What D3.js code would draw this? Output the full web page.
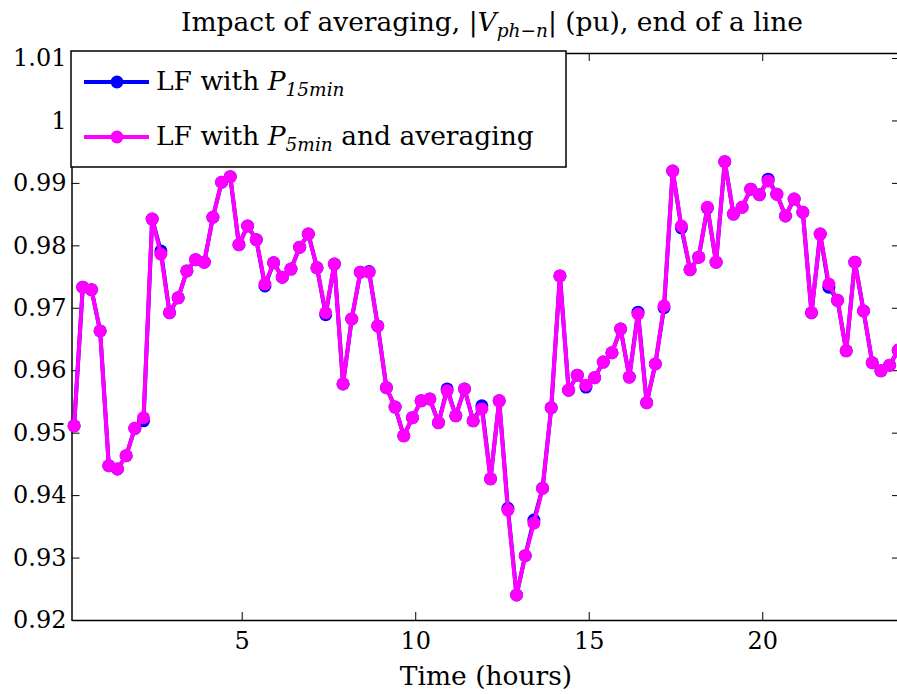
<!DOCTYPE html>
<html>
<head>
<meta charset="utf-8">
<script src="https://d3js.org/d3.v7.min.js"></script>
<style>
  body { margin: 0; background: #fff; }
  svg text { font-family: "DejaVu Serif", serif; fill: #000; }
  .axis path, .axis line { stroke: #000; }
</style>
</head>
<body>
<script>
// time of each sample (hours), one every 15 min
var hours = d3.range(96).map(function(i){ return 0.17 + 0.25 * i; });

// |V ph-n| (pu), load flow with 5 min profile and averaging
var v5min = [0.9511, 0.9733, 0.9729, 0.9663, 0.9447, 0.9442, 0.9463, 0.9507, 0.9524, 0.9842,
             0.9786, 0.9692, 0.9716, 0.9759, 0.9777, 0.9773, 0.9845, 0.9901, 0.9910, 0.9801,
             0.9831, 0.9809, 0.9738, 0.9772, 0.9749, 0.9762, 0.9797, 0.9818, 0.9764, 0.9692,
             0.9770, 0.9578, 0.9682, 0.9757, 0.9757, 0.9671, 0.9572, 0.9541, 0.9495, 0.9524,
             0.9551, 0.9554, 0.9516, 0.9567, 0.9527, 0.9570, 0.9519, 0.9538, 0.9426, 0.9551,
             0.9376, 0.9240, 0.9303, 0.9355, 0.9411, 0.9540, 0.9751, 0.9568, 0.9592, 0.9576,
             0.9588, 0.9613, 0.9628, 0.9666, 0.9589, 0.9690, 0.9548, 0.9610, 0.9703, 0.9919,
             0.9831, 0.9761, 0.9781, 0.9861, 0.9773, 0.9934, 0.9850, 0.9861, 0.9890, 0.9881,
             0.9903, 0.9882, 0.9847, 0.9874, 0.9853, 0.9692, 0.9818, 0.9738, 0.9712, 0.9631,
             0.9773, 0.9695, 0.9612, 0.9599, 0.9608, 0.9632];

// |V ph-n| (pu), load flow with 15 min profile
var v15min = [0.9511, 0.9733, 0.9729, 0.9663, 0.9447, 0.9442, 0.9463, 0.9507, 0.9519, 0.9842,
              0.9791, 0.9692, 0.9716, 0.9759, 0.9777, 0.9773, 0.9845, 0.9901, 0.9910, 0.9801,
              0.9831, 0.9809, 0.9735, 0.9772, 0.9749, 0.9762, 0.9797, 0.9818, 0.9764, 0.9689,
              0.9770, 0.9578, 0.9682, 0.9757, 0.9758, 0.9671, 0.9572, 0.9541, 0.9495, 0.9524,
              0.9551, 0.9554, 0.9516, 0.9570, 0.9527, 0.9570, 0.9519, 0.9543, 0.9426, 0.9551,
              0.9379, 0.9240, 0.9303, 0.9360, 0.9411, 0.9540, 0.9751, 0.9568, 0.9592, 0.9573,
              0.9588, 0.9613, 0.9628, 0.9666, 0.9589, 0.9693, 0.9548, 0.9610, 0.9700, 0.9919,
              0.9828, 0.9761, 0.9781, 0.9860, 0.9773, 0.9934, 0.9850, 0.9861, 0.9890, 0.9881,
              0.9906, 0.9882, 0.9847, 0.9874, 0.9853, 0.9692, 0.9818, 0.9733, 0.9712, 0.9631,
              0.9773, 0.9695, 0.9612, 0.9599, 0.9608, 0.9632];

var xTicks = [5, 10, 15, 20];
var yTicks = [0.92, 0.93, 0.94, 0.95, 0.96, 0.97, 0.98, 0.99, 1, 1.01];

var W = 897, H = 694;
var margin = {top: 53, left: 71.5},
    width = 900 - margin.left,
    height = 620 - margin.top;

var svg = d3.select("body").append("svg")
  .attr("width", W)
  .attr("height", H);

var g = svg.append("g")
  .attr("transform", "translate(" + margin.left + "," + margin.top + ")");

// scales
var xScale = d3.scaleLinear().domain([0.095, 23.97]).range([0, width]);
var yScale = d3.scaleLinear().domain([0.92, 1.0108]).range([height, 0]);

// axes, ticks pointing inside like matlab
var fmtY = function(d){ return d3.format(".2f")(d).replace(/0+$/, "").replace(/\.$/, ""); };

g.append("g").attr("class", "axis")
  .attr("transform", "translate(0," + height + ")")
  .call(d3.axisBottom(xScale).tickValues(xTicks).tickSizeInner(-8).tickSizeOuter(0).tickPadding(12))
  .call(function(s){ s.selectAll("text").attr("font-size", 24); });

g.append("g").attr("class", "axis")
  .call(d3.axisTop(xScale).tickValues(xTicks).tickSizeInner(-8).tickSizeOuter(0).tickFormat(""));

g.append("g").attr("class", "axis")
  .call(d3.axisLeft(yScale).tickValues(yTicks).tickSizeInner(-8).tickSizeOuter(0).tickPadding(5).tickFormat(fmtY))
  .call(function(s){ s.selectAll("text").attr("font-size", 24); });

g.append("g").attr("class", "axis")
  .attr("transform", "translate(" + width + ",0)")
  .call(d3.axisRight(yScale).tickValues(yTicks).tickSizeInner(-8).tickSizeOuter(0).tickFormat(""));

g.selectAll(".axis").attr("font-family", null);
g.selectAll(".axis path").attr("stroke-width", 1.5);

// series
var series = [
  {values: v15min, color: "#0000ff"},
  {values: v5min, color: "#ff00ff"}
];

series.forEach(function(s){
  var pts = hours.map(function(h, i){ return [h, s.values[i]]; });
  var line = d3.line()
    .x(function(d){ return xScale(d[0]); })
    .y(function(d){ return yScale(d[1]); });
  g.append("path")
    .datum(pts)
    .attr("fill", "none")
    .attr("stroke", s.color)
    .attr("stroke-width", 4)
    .attr("stroke-linejoin", "round")
    .attr("d", line);
  g.append("g").selectAll("circle")
    .data(pts)
    .enter().append("circle")
    .attr("cx", function(d){ return xScale(d[0]); })
    .attr("cy", function(d){ return yScale(d[1]); })
    .attr("r", 6.5)
    .attr("fill", s.color);
});

// title
var title = svg.append("text")
  .attr("x", 492)
  .attr("y", 31)
  .attr("text-anchor", "middle")
  .attr("font-size", 26.5);
title.append("tspan").text("Impact of averaging, |");
title.append("tspan").attr("font-style", "italic").text("V");
title.append("tspan").attr("font-style", "italic").attr("font-size", 18.5).attr("dy", 6).text("ph\u2212n");
title.append("tspan").attr("dy", -6).text("| (pu), end of a line");

// x label
svg.append("text")
  .attr("x", 486)
  .attr("y", 685)
  .attr("text-anchor", "middle")
  .attr("font-size", 26.5)
  .text("Time (hours)");

// legend
var leg = svg.append("g");
leg.append("rect")
  .attr("x", 71).attr("y", 51)
  .attr("width", 495).attr("height", 116)
  .attr("fill", "#fff")
  .attr("stroke", "#000")
  .attr("stroke-width", 1.5);

var legItems = [
  {color: "#0000ff", sub: "15min", rest: ""},
  {color: "#ff00ff", sub: "5min", rest: " and averaging"}
];

legItems.forEach(function(d, i){
  var yy = 82 + i * 55;
  leg.append("line")
    .attr("x1", 84).attr("x2", 149)
    .attr("y1", yy).attr("y2", yy)
    .attr("stroke", d.color).attr("stroke-width", 4);
  leg.append("circle")
    .attr("cx", 117).attr("cy", yy).attr("r", 6.5)
    .attr("fill", d.color);
  var t = leg.append("text")
    .attr("x", 156).attr("y", yy + 8)
    .attr("font-size", 26.5);
  t.append("tspan").text("LF with ");
  t.append("tspan").attr("font-style", "italic").text("P");
  t.append("tspan").attr("font-style", "italic").attr("font-size", 18.5).attr("dy", 6).text(d.sub);
  if (d.rest) t.append("tspan").attr("dy", -6).text(d.rest);
});
</script>
</body>
</html>
